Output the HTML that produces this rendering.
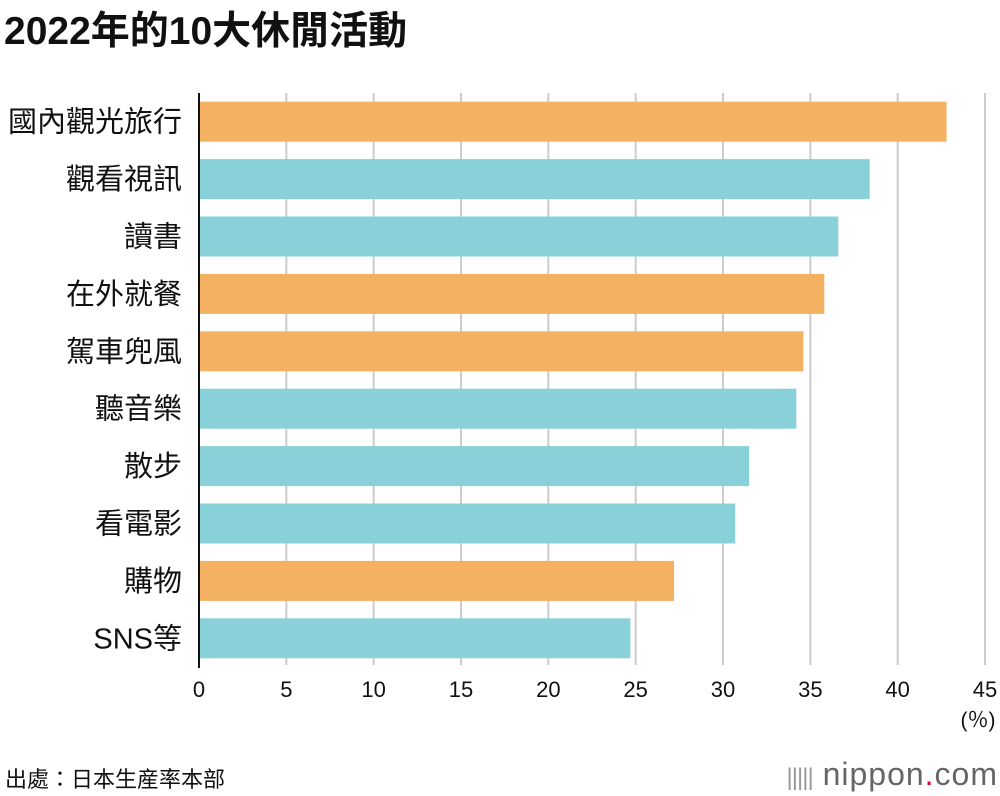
<!DOCTYPE html>
<html><head><meta charset="utf-8"><style>
body{margin:0;background:#fff;font-family:"Liberation Sans","Noto Sans CJK TC",sans-serif;}
#wrap{position:relative;width:1000px;height:796px;overflow:hidden;}
.title{position:absolute;left:4px;top:0px;font-size:39px;font-weight:bold;color:#111;font-family:"Liberation Sans","Noto Sans CJK TC",sans-serif;}
.src{position:absolute;left:5px;top:762px;font-size:22px;color:#111;}
.logo{position:absolute;right:2px;top:756px;font-size:32px;color:#666;letter-spacing:1px;}
</style></head><body>
<div id="wrap">
<div class="title">2022年的10大休閒活動</div>
<svg id="chart" width="1000" height="796" style="position:absolute;left:0;top:0"></svg>
<div class="src">出處：日本生産率本部</div>
<div class="logo"><span style="font-size:24px;letter-spacing:-1px;color:#999">|||||</span> nippon<span style="color:#e0002a">.</span>com</div>
</div>
<script>
const categories=["國內觀光旅行","觀看視訊","讀書","在外就餐","駕車兜風","聽音樂","散步","看電影","購物","SNS等"];
const values=[42.8,38.4,36.6,35.8,34.6,34.2,31.5,30.7,27.2,24.7];
const highlight=[1,0,0,1,1,0,0,0,1,0];
const ticks=[0,5,10,15,20,25,30,35,40,45];
const NS="http://www.w3.org/2000/svg";
const svg=document.getElementById('chart');
const x0=199,x1=985,maxV=45,topY=93,rowH=57.4,barH=40;
const xs=v=>x0+(x1-x0)*v/maxV;
const ys=i=>topY+rowH*i+rowH/2;
function mk(t,a){const e=document.createElementNS(NS,t);for(const k in a)e.setAttribute(k,a[k]);svg.appendChild(e);return e;}
ticks.forEach(t=>{
  if(t>0){const g=mk('line',{x1:xs(t),x2:xs(t),y1:topY,y2:665,stroke:'#ccc','stroke-width':2});
  
  }
  const l=mk('text',{x:xs(t),y:697,'text-anchor':'middle','font-size':22,fill:'#111','font-family':'Liberation Sans, sans-serif'});
  l.textContent=t;
  
  
});
const u=mk('text',{x:978,y:727,'text-anchor':'middle','font-size':21,fill:'#111','font-family':'Liberation Sans, sans-serif'});
u.textContent='(％)';


categories.forEach((c,i)=>{
  const r=mk('rect',{x:x0,y:ys(i)-barH/2,width:xs(values[i])-x0,height:barH,fill:highlight[i]?'#f4b162':'#88d1d9'});
  
  
  const t=mk('text',{x:182,y:ys(i)+10,'text-anchor':'end','font-size':29,fill:'#111','font-family':'Liberation Sans, Noto Sans CJK TC, sans-serif'});
  t.textContent=c;
  
  
});
const ax=mk('line',{x1:x0,x2:x0,y1:topY,y2:668,stroke:'#111','stroke-width':2});


</script>
</body></html>
